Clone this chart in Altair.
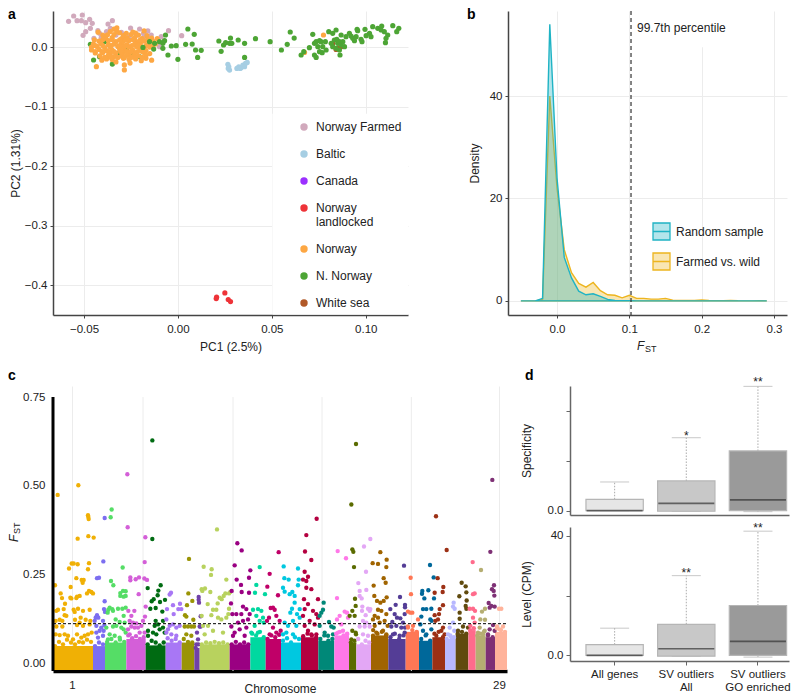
import altair as alt
import pandas as pd

FONT = "Liberation Sans"
INK = "#222222"
GRID = "#ececec"

# ---------- panel a: PCA ----------
pop_names = ["Norway Farmed", "Baltic", "Canada", "Norway landlocked", "Norway", "N. Norway", "White sea"]
pop_colors = ["#D1A9BC", "#A6CEE3", "#9B30FF", "#EE3338", "#FDA743", "#4DA535", "#B15928"]

farmed = [(-.0582,.0431),(-.0555,.0521),(-.0537,.0443),(-.0509,.0538),(-.0514,.0443),(-.0491,.0409),(-.047,.0465),
          (-.0456,.0398),(-.0466,.0314),(-.0491,.0258),(-.0505,.0196),(-.0372,.0387),(-.0349,.0443),(-.036,.0314),
          (-.0426,.0275),(-.0417,.023),(-.0408,.0162),(-.0447,.0146),(-.0301,.0246),(-.0252,.0319),(-.0204,.0303),
          (-.0183,.023),(-.0183,.0162),(-.0142,.0202),(-.0089,.0174),(-.005,.0275),(.002,.019),(-.0098,.0006),
          (-.026,.017),(-.033,.02),(-.038,.026),(-.022,.02),(-.016,.027)]
baltic = [(.0266,-.0291),(.0271,-.0331),(.0275,-.0387),(.0268,-.0359),(.0314,-.0359),(.0324,-.0331),(.0337,-.0342),
          (.0346,-.0303),(.036,-.0275),(.0369,-.0258),(.0355,-.0331),(.0332,-.0359)]
landlocked = [(.0206,-.42),(.0204,-.4225),(.025,-.413),(.0268,-.424),(.028,-.4274)]
white_sea = [(.0842,-.004),(.0824,.006),(.0869,.0006),(.0851,-.002)]
n_norway_under = [(-.0466,.0045),(-.0449,-.0218),(-.0417,-.0162),(-.0367,-.0151),(-.0349,-.0286),(-.039,.009),
                  (-.0319,-.0106),(-.0275,-.005),(-.0239,-.0134),(-.0204,-.0162)]
norway = [(-.034,.03),(-.0325,.032),
          (-.0425,.025),(-.036,.026),(-.031,.024),(-.024,.025),(-.018,.027),
          (-.04,.02),(-.034,.021),(-.029,.019),(-.025,.021),(-.021,.02),(-.0165,.019),
          (-.0385,.015),(-.035,.016),(-.03,.014),(-.027,.015),(-.023,.016),(-.019,.014),(-.014,.015),(-.011,.014),
          (-.042,.01),(-.037,.011),(-.033,.009),(-.029,.01),(-.026,.011),(-.022,.009),(-.018,.01),(-.0135,.011),
          (-.045,.005),(-.041,.006),(-.037,.004),(-.034,.005),(-.03,.006),(-.027,.004),(-.023,.005),(-.02,.006),(-.016,.004),(-.012,.005),
          (-.046,.0),(-.043,.001),(-.039,-.001),(-.036,.0),(-.032,.001),(-.029,-.001),(-.026,.0),(-.022,.001),(-.019,-.001),(-.015,.0),
          (-.046,-.005),(-.042,-.004),(-.038,-.006),(-.035,-.005),(-.031,-.004),(-.028,-.006),(-.024,-.005),(-.02,-.004),(-.017,-.006),
          (-.044,-.01),(-.04,-.009),(-.036,-.011),(-.033,-.01),(-.029,-.009),(-.026,-.011),(-.023,-.01),(-.018,-.009),(-.015,-.011),
          (-.0415,-.015),(-.037,-.014),(-.034,-.016),(-.03,-.015),(-.027,-.014),(-.024,-.016),(-.021,-.015),(-.017,-.014),
          (-.038,-.02),(-.035,-.021),(-.029,-.019),(-.026,-.021),(-.0225,-.02),(-.017,-.019),(-.014,-.022),
          (-.0434,-.033),(-.0285,-.03),(-.0285,-.0385),(-.0255,-.027),(-.0405,-.022),(-.033,-.025),
          (-.0195,-.023),(.0775,.0202),(.0674,-.009),
          (-.0445,.012),(-.04,.0125),(-.035,.0125),(-.031,.012),(-.0275,.0125),(-.024,.0125),(-.02,.012),(-.016,.0125),
          (-.044,.0025),(-.04,.0025),(-.0355,.0025),(-.031,.0025),(-.028,.0025),(-.0245,.0025),(-.021,.0025),(-.017,.0025),(-.0135,.002),
          (-.044,-.0075),(-.0405,-.0075),(-.037,-.0075),(-.034,-.0075),(-.0305,-.0075),(-.027,-.0075),(-.025,-.0075),(-.0215,-.0075),(-.019,-.0075),
          (-.039,-.0175),(-.0355,-.0175),(-.032,-.0175),(-.0285,-.0175),(-.025,-.0175),(-.0225,-.0175),(-.019,-.0175),
          (-.0375,.0205),(-.0325,.0255),(-.0275,.023),(-.0225,.0235),(-.0155,.0095)]
n_norway = [(-.0186,-.0006),(-.0129,-.0034),(-.0151,.009),(-.0124,.0062),(-.008,-.0022),(-.0066,.0202),(-.0098,.009),
            (-.008,.0062),(-.0071,.0106),(-.0053,-.0134),(-.0035,.0017),(-.0009,.0022),(0,-.0207),(.0041,.0045),
            (.0053,.0303),(.0076,.005),(.0087,.0213),(.0094,-.005),(.0124,-.0056),(.0105,-.0174),(.0218,.0101),
            (.023,-.0073),(.0243,.0034),(.0254,.0073),(.0275,.0062),(.028,.0151),(.0287,.0062),(.0321,.0118),
            (.0355,.0062),(.0355,-.0174),(.0413,.014),(.0491,.009),(.0551,-.005),(.0582,.0045),(.0598,.0252),
            (.0619,.0151),(.0656,-.0134),(.067,-.0078),(.07,-.0011),(.0718,.0213),(.0727,.0062),(.0736,.009),
            (.0754,.0106),(.0762,.009),(.0771,.0006),(.0745,.0006),(.0754,-.0078),(.0768,-.0095),(.0789,-.005),
            (.0727,-.0134),(.0736,-.0174),(.0785,.009),(.0803,.0258),(.0824,.023),(.0842,.0286),(.0833,.0118),
            (.0846,.0129),(.0816,.0062),(.0824,.0006),(.0851,.0062),(.086,.009),(.0869,.0034),(.0878,.009),
            (.086,-.005),(.0842,-.0022),(.0863,-.0134),(.0887,.0006),(.0869,.0202),(.0895,.0174),(.0913,.023),
            (.0922,.0185),(.0931,.0146),(.094,.0106),(.0954,.0297),(.0957,.0275),(.0949,.0174),(.0975,.0129),
            (.098,.009),(.0996,.0297),(.1002,.019),(.102,.023),(.1028,.0174),(.1037,.0342),(.1064,.0314),
            (.1085,.0353),(.1082,.0286),(.1099,.0258),(.1117,.0202),(.1108,.0146),(.1105,.0073),(.1144,.0359),
            (.1165,.0258),(.1176,.0314)]

# ---------- panel b: density ----------
fst_bins = [-.05,-.04,-.03,-.02,-.01,0,.01,.02,.03,.04,.05,.06,.07,.08,.09,.10,.11,.12,.13,.14,.15,.16,.17,.18,.19,
            .20,.21,.22,.23,.24,.25,.26,.27,.28,.29]
random_density = [0,0,0,.5,54,24,8.5,4.5,1.9,1.2,1.4,.9,.3,.1,.05,.02,.01,0,0,0,0,0,0,0,0,0,0,0,0,0,0,0,0,0,0]
farmed_density = [0,0,0,.3,40,22,10,5.5,3.4,2.7,3.6,2,1.2,1.1,.6,1.1,.5,.5,.35,.35,.5,.15,.1,.1,.1,.2,.1,.05,.05,.1,.02,.01,.01,.05,0]
density_names = ["Random sample", "Farmed vs. wild"]
density_lines = ["#1FB3C4", "#EDB51F"]
density_fills = ["rgba(31,179,196,0.34)", "rgba(237,181,31,0.34)"]
percentile_cut = 0.1023

# ---------- panel c: Manhattan ----------
chrom_start = [160,280,316,380,438,498,546,584,600,690,752,798,844,904,956,1004,1048,1070,1114,1166,1218,1258,1298,1336,1368,1406,1428,1458,1486]
chrom_end = chrom_start[1:] + [1522]
chrom_crown = [
 [.05,.062,.055,.068,.06,.055,.062,.06,.068,.062],[.05,.06,.055],[.062,.07,.06,.068,.062],[.08,.072,.078,.07,.075],
 [.055,.065,.06,.052,.06],[.072,.065,.07,.06],[.07,.062,.06],[.045,.055],[.055,.06,.058,.062,.058,.06,.055],
 [.055,.062,.055,.06,.055],[.085,.08,.09,.075],[.07,.08,.075,.082],[.065,.072,.06,.075,.07],[.078,.085,.08,.075],
 [.07,.08,.065,.07],[.085,.09,.08,.085],[.06,.065],[.07,.055,.065,.06],[.095,.085,.09,.08],[.075,.085,.07,.08],
 [.105,.095,.09],[.07,.08,.065],[.085,.09,.075],[.07,.08,.075],[.085,.09,.085],[.095,.1],[.08,.085,.09],[.08,.075],[.1,.095,.09]]
chrom_colors = ["#F0B005","#7C6EF0","#55DD66","#D45FD8","#006B12","#A877F5","#9A9405","#7040A8","#B8D25E","#9A0082",
                "#00D8A0","#C00068","#00C8E0","#B40040","#008878","#FF78E8","#5A6B00","#E3A7F5","#A06400","#543D96",
                "#FF7755","#00689A","#9C3015","#B8B8FF","#604A0E","#FF6B8C","#B5AE72","#7E3075","#FFB39B"]
chrom_points = [
 [(174,.475),(236,.502),(265,.418),(266,.413),(267,.407),(234,.352),(266,.359),(282,.355),(216,.282),(222,.282),(234,.28),(208,.268),(268,.283),(265,.266),(166,.221),(230,.241),(246,.236),(252,.236),(249,.228),(213,.216),(183,.198),(187,.185),(212,.186),(215,.184),(196,.169),(232,.189),(240,.191),(230,.185),(268,.205),(262,.198),(280,.198),(275,.202),(192,.154),(222,.152),(235,.155),(250,.149),(270,.152),(170,.149),(175,.152),(225,.146),(195,.137),(200,.135),(243,.13),(168,.121),(180,.124),(188,.121),(226,.124),(258,.124),(272,.121),(240,.116),(170,.105),(188,.105),(232,.109),(250,.107),(270,.111),(168,.083),(180,.081),(195,.083),(232,.083),(265,.083),(276,.088),(205,.079),(245,.074),(255,.079),(220,.069)],
 [(315,.41),(311,.288),(292,.241),(298,.242),(315,.176),(313,.154),(316,.146),(292,.137),(288,.13),(296,.13),(285,.121),(310,.121),(314,.109),(290,.107),(305,.102),(312,.093),(300,.093),(290,.088),(310,.079),(295,.074)],
 [(336,.434),(333,.412),(369,.271),(334,.233),(341,.221),(370,.205),(378,.204),(362,.199),(362,.191),(378,.191),(372,.189),(330,.158),(326,.152),(338,.154),(355,.155),(368,.155),(378,.158),(324,.144),(340,.149),(372,.135),(348,.125),(360,.118),(375,.116),(340,.105),(350,.107),(320,.102),(365,.102),(372,.097),(378,.088),(330,.083),(345,.079),(360,.074),(325,.069)],
 [(383,.533),(384,.384),(437,.356),(435,.286),(392,.243),(392,.235),(408,.238),(418,.243),(434,.24),(442,.236),(417,.196),(386,.149),(404,.149),(438,.161),(395,.135),(390,.121),(400,.116),(410,.114),(430,.121),(436,.133),(395,.105),(405,.102),(415,.102),(385,.097),(425,.107),(435,.088),(390,.083),(420,.088)],
 [(458,.628),(458,.351),(444,.213),(483,.221),(476,.206),(474,.193),(462,.182),(456,.176),(481,.174),(496,.18),(452,.155),(468,.157),(488,.147),(468,.121),(465,.107),(475,.111),(490,.121),(490,.102),(445,.093),(460,.088),(480,.097),(470,.083),(445,.079),(495,.088)],
 [(514,.2),(510,.195),(520,.165),(541,.169),(536,.154),(545,.154),(502,.154),(500,.125),(522,.14),(510,.107),(520,.111),(530,.102),(540,.107),(500,.088),(515,.083),(530,.079),(505,.097)],
 [(568,.295),(566,.198),(578,.177),(562,.165),(556,.137),(560,.133),(581,.124),(555,.105),(565,.105),(575,.105),(583,.105),(560,.083),(575,.079)],
 [(597,.188),(597,.18),(598,.172),(603,.134),(600,.105),(592,.088),(595,.069),(603,.105),(590,.055)],
 [(612,.273),(636,.266),(634,.25),(652,.378),(680,.237),(606,.21),(616,.212),(608,.205),(632,.202),(677,.198),(688,.198),(672,.191),(666,.182),(660,.186),(692,.202),(624,.168),(654,.17),(640,.152),(650,.152),(606,.135),(635,.137),(655,.13),(665,.125),(688,.155),(686,.14),(680,.13),(625,.107),(610,.107),(640,.093),(670,.088),(615,.083)],
 [(713,.339),(726,.319),(705,.277),(752,.263),(711,.237),(748,.242),(724,.222),(726,.202),(696,.205),(748,.2),(694,.17),(730,.161),(698,.14),(710,.14),(725,.14),(740,.154),(750,.14),(695,.105),(715,.116),(730,.121),(745,.125),(705,.088),(720,.097),(740,.102),(700,.079),(735,.079)],
 [(780,.272),(770,.222),(766,.2),(796,.196),(760,.152),(775,.154),(785,.149),(770,.135),(790,.13),(780,.121),(765,.107),(792,.116),(755,.088),(775,.088)],
 [(837,.314),(810,.253),(803,.217),(835,.193),(820,.158),(813,.157),(825,.152),(808,.13),(830,.135),(840,.121),(802,.121),(820,.102),(843,.093),(810,.083),(830,.088)],
 [(852,.274),(895,.268),(854,.241),(867,.237),(897,.237),(895,.221),(850,.214),(855,.203),(878,.202),(870,.196),(885,.191),(885,.172),(877,.155),(872,.144),(892,.14),(900,.154),(900,.13),(855,.116),(865,.107),(880,.121),(890,.107),(860,.088),(880,.083),(850,.083)],
 [(951,.408),(920,.362),(916,.316),(935,.292),(915,.259),(925,.245),(910,.237),(920,.233),(920,.214),(935,.21),(913,.182),(955,.182),(925,.168),(915,.154),(940,.149),(950,.14),(955,.13),(910,.135),(930,.121),(915,.107),(945,.111),(925,.093),(950,.083),(935,.083)],
 [(972,.172),(970,.152),(965,.144),(960,.135),(988,.118),(960,.107),(975,.088),(995,.105),(1002,.102),(985,.079),(1000,.083)],
 [(1014,.317),(1039,.297),(1012,.185),(1035,.147),(1042,.144),(1020,.135),(1012,.125),(1025,.111),(1045,.13),(1015,.088),(1030,.093),(1042,.083)],
 [(1069,.618),(1055,.448),(1058,.322),(1061,.315),(1063,.272),(1066,.183),(1068,.163),(1058,.149),(1050,.135),(1065,.135),(1058,.093),(1068,.088),(1055,.069),(1069,.083)],
 [(1112,.351),(1093,.33),(1099,.259),(1076,.227),(1080,.205),(1100,.208),(1080,.191),(1086,.184),(1088,.161),(1105,.155),(1112,.154),(1087,.149),(1098,.137),(1110,.149),(1090,.121),(1100,.116),(1080,.105),(1095,.105),(1110,.105),(1090,.083),(1105,.079)],
 [(1142,.314),(1119,.283),(1135,.281),(1161,.293),(1160,.272),(1152,.241),(1158,.228),(1122,.22),(1124,.191),(1161,.187),(1132,.177),(1142,.172),(1152,.177),(1125,.135),(1135,.152),(1145,.149),(1160,.14),(1120,.125),(1135,.13),(1155,.121),(1125,.107),(1140,.116),(1164,.107),(1130,.088),(1150,.093),(1120,.079),(1160,.083)],
 [(1213,.276),(1201,.188),(1188,.166),(1172,.154),(1216,.166),(1216,.159),(1185,.14),(1215,.14),(1178,.118),(1192,.13),(1202,.128),(1210,.116),(1175,.105),(1190,.107),(1205,.102),(1216,.102),(1180,.083),(1200,.079),(1215,.088)],
 [(1233,.242),(1234,.196),(1225,.147),(1232,.144),(1238,.144),(1255,.125),(1250,.088),(1225,.102),(1240,.107)],
 [(1291,.278),(1302,.243),(1268,.205),(1286,.207),(1267,.197),(1274,.184),(1303,.184),(1270,.154),(1280,.154),(1295,.155),(1262,.111),(1265,.133),(1292,.125),(1296,.121),(1295,.097),(1270,.093),(1280,.083)],
 [(1309,.415),(1341,.32),(1314,.241),(1331,.216),(1329,.202),(1305,.2),(1330,.165),(1320,.154),(1318,.14),(1305,.137),(1315,.125),(1330,.102),(1307,.121),(1325,.093),(1310,.079),(1335,.083)],
 [(1362,.172),(1360,.161),(1365,.155),(1360,.116),(1350,.102),(1364,.093),(1345,.083),(1355,.074)],
 [(1386,.228),(1398,.218),(1400,.201),(1379,.19),(1401,.178),(1398,.163),(1400,.155),(1380,.144),(1380,.127),(1390,.105),(1405,.102),(1375,.093)],
 [(1419,.286),(1425,.198),(1420,.196),(1410,.155),(1420,.155),(1426,.149),(1420,.13),(1412,.107),(1425,.116),(1415,.083)],
 [(1444,.264),(1456,.155),(1447,.147),(1442,.125),(1456,.124),(1440,.102),(1450,.083),(1435,.088),(1455,.093)],
 [(1478,.517),(1472,.315),(1483,.221),(1477,.21),(1482,.205),(1484,.192),(1467,.171),(1475,.163),(1485,.161),(1470,.158),(1480,.109),(1470,.097),(1485,.093),(1465,.083)],
 [(1505,.155),(1498,.155),(1492,.105),(1510,.105),(1500,.097),(1515,.088),(1495,.083),(1508,.079)],
]
threshold = 0.113
c_grid_pos = [430, 700, 967, 1235]
c_label_pos = [217, 1498]

# ---------- panel d: box plots ----------
box_cats = ["All genes", "SV outliers|All", "SV outliers|GO enriched"]
box_fill = ["#E6E6E6", "#C8C8C8", "#9A9A9A"]
spec_hi = [.23, .585, .997]
spec_q3 = [.091, .238, .479]
spec_med = [0, .059, .086]
spec_q1 = [0, -.005, 0]
spec_lo = [0, -.005, -.008]
spec_stars = ["", "*", "**"]
spec_star_y = [None, .6, 1.03]
lvl_hi = [9.1, 26.7, 41.6]
lvl_q3 = [3.6, 10.4, 16.7]
lvl_med = [0, 2.2, 4.7]
lvl_q1 = [0, -.3, 0]
lvl_lo = [0, -.3, -.6]
lvl_stars = ["", "**", "**"]
lvl_star_y = [None, 27.5, 42.5]


def axis_style(**kw):
    base = dict(labelFont=FONT, labelFontSize=11.5, labelColor=INK, titleFont=FONT, titleFontSize=12, titleColor=INK,
                titleFontWeight="normal", domainColor="#444444", domainWidth=1.5, tickColor="#444444", tickSize=3,
                gridColor=GRID, gridWidth=1, labelPadding=3, labelOverlap=False)
    base.update(kw)
    return alt.Axis(**base)


def letter(t, x, y):
    return alt.Chart(pd.DataFrame({"t": [t]})).mark_text(
        align="left", baseline="alphabetic", font=FONT, fontWeight="bold", fontSize=14, color="#000000"
    ).encode(x=alt.value(x), y=alt.value(y), text="t:N")


def note(t, x, y, size=12, style="normal", angle=0):
    return alt.Chart(pd.DataFrame({"t": [t]})).mark_text(
        align="left", baseline="alphabetic", font=FONT, fontSize=size, fontStyle=style, color=INK, angle=angle
    ).encode(x=alt.value(x), y=alt.value(y), text="t:N")


# ---- build a
rows = []
for name, pts in [("Norway Farmed", farmed), ("Baltic", baltic), ("Norway landlocked", landlocked), ("White sea", white_sea),
                  ("N. Norway", n_norway_under), ("Norway", norway), ("N. Norway", n_norway)]:
    for x, y in pts:
        rows.append({"pc1": x, "pc2": y, "pop": name})
pca = pd.DataFrame(rows)
a_xs = alt.Scale(domain=[-.0665, .1225], nice=False, zero=False)
a_ys = alt.Scale(domain=[-.45, .0605], nice=False, zero=False)
ax = alt.X("pc1:Q", scale=a_xs,
           axis=axis_style(values=[-.05, 0, .05, .1], format=".2f", title="PC1 (2.5%)", titlePadding=7, labelPadding=5))
ay = alt.Y("pc2:Q", scale=a_ys,
           axis=axis_style(values=[0, -.1, -.2, -.3, -.4], format=".1f", title="PC2 (1.31%)", titlePadding=2))
a_mask = alt.Chart(pd.DataFrame({"x": [.0503], "x2": [.1225], "y": [-.112], "y2": [-.449]})).mark_rect(color="white").encode(
    x=alt.X("x:Q", scale=a_xs), x2="x2:Q", y=alt.Y("y:Q", scale=a_ys), y2="y2:Q")
a_pts = alt.Chart(pca).mark_circle(size=27, opacity=1).encode(
    x=ax, y=ay,
    color=alt.Color("pop:N", scale=alt.Scale(domain=pop_names, range=pop_colors),
                    legend=alt.Legend(orient="none", legendX=245, legendY=110, title=None, symbolSize=55, symbolType="circle",
                                      labelFont=FONT, labelFontSize=12, labelColor=INK, labelOffset=6, rowPadding=15,
                                      symbolStrokeWidth=0, labelLimit=120,
                                      labelExpr="datum.label=='Norway landlocked' ? ['Norway','landlocked'] : datum.label")))
panel_a = alt.layer(a_mask, a_pts, letter("a", -45, 8)).properties(width=355, height=304)

# ---- build b
dens = pd.DataFrame({"fst": fst_bins * 2, "d": random_density + farmed_density,
                     "set": ["Random sample"] * len(fst_bins) + ["Farmed vs. wild"] * len(fst_bins)})
bx_s = alt.Scale(domain=[-.0678, .318], nice=False, zero=False)
by_s = alt.Scale(domain=[-2.75, 56.6], nice=False, zero=False)
fill_s = alt.Scale(domain=density_names, range=density_fills)
line_s = alt.Scale(domain=density_names, range=density_lines)
b_leg = alt.Legend(orient="none", legendX=144, legendY=211, title=None, symbolType="M-1,-1H1V1H-1ZM-1,0H1", symbolSize=289,
                   labelFont=FONT, labelFontSize=12, labelColor=INK, labelOffset=5, rowPadding=7, symbolStrokeWidth=1.3,
                   labelLimit=130)


def dens_layer(name):
    return alt.Chart(dens[dens.set == name]).mark_area(strokeWidth=1.4).encode(
        x=alt.X("fst:Q", scale=bx_s, axis=axis_style(values=[0, .1, .2, .3], format=".1f", title=None, labelPadding=5)),
        y=alt.Y("d:Q", scale=by_s, axis=axis_style(values=[0, 20, 40], format="d", title="Density", titlePadding=8)),
        fill=alt.Fill("set:N", scale=fill_s, legend=b_leg),
        stroke=alt.Stroke("set:N", scale=line_s, legend=b_leg))


b_box = alt.Chart(pd.DataFrame({"x": [.107], "x2": [.234], "y": [49.5], "y2": [56.6]})).mark_rect(color="white").encode(
    x=alt.X("x:Q", scale=bx_s), x2="x2:Q", y=alt.Y("y:Q", scale=by_s), y2="y2:Q")
b_cut = alt.Chart(pd.DataFrame({"x": [percentile_cut]})).mark_rule(color="#333333", strokeDash=[4, 3], strokeWidth=1.2).encode(
    x=alt.X("x:Q", scale=bx_s))
b_txt = alt.Chart(pd.DataFrame({"x": [.1106], "y": [53.3], "t": ["99.7th percentile"]})).mark_text(
    align="left", baseline="middle", font=FONT, fontSize=12, color=INK).encode(
    x=alt.X("x:Q", scale=bx_s), y=alt.Y("y:Q", scale=by_s), text="t:N")
panel_b = alt.layer(b_box, dens_layer("Farmed vs. wild"), dens_layer("Random sample"), b_cut, b_txt,
                    note("F", 129, 339, 12, "italic"), note("ST", 137, 341, 9), letter("b", -41, 8)
                    ).properties(width=279, height=304)

# ---- build c
chrom_ids = [f"{i + 1}" for i in range(29)]
pts_rows, mass_rows = [], []
for cid, pts, s, e, crown in zip(chrom_ids, chrom_points, chrom_start, chrom_end, chrom_crown):
    mass_rows.append({"chrom": cid, "s": s, "e": e, "top": min(crown), "low": -.017})
    step = (e - s) / len(crown)
    for i, f in enumerate(crown):
        pts_rows.append({"chrom": cid, "pos": s + (i + .5) * step, "fst": f})
    for p, f in pts:
        pts_rows.append({"chrom": cid, "pos": p, "fst": f})
cx_s = alt.Scale(domain=[160, 1522], nice=False, zero=False)
cy_s = alt.Scale(domain=[-.02, .781], nice=False, zero=False)
cc_s = alt.Scale(domain=chrom_ids, range=chrom_colors)
c_grid = alt.Chart(pd.DataFrame({"pos": c_grid_pos})).mark_rule(color=GRID, strokeWidth=1).encode(
    x=alt.X("pos:Q", scale=cx_s, axis=axis_style(values=c_label_pos, labelExpr="datum.value < 500 ? '1' : '29'",
                                                   title="Chromosome", tickSize=0, domainColor="#000000", domainWidth=3.5,
                                                   labelPadding=8, titlePadding=-7)),
    y=alt.datum(-.02), y2=alt.datum(.75))
c_mass = alt.Chart(pd.DataFrame(mass_rows)).mark_rect().encode(
    x=alt.X("s:Q", scale=cx_s), x2="e:Q",
    y=alt.Y("top:Q", scale=cy_s,
            axis=axis_style(values=[0, .125, .25, .375, .5, .625, .75], format=".2f", domain=False, tickSize=0, labelPadding=8,
                            labelExpr="datum.value*4 % 1 == 0 ? format(datum.value,'.2f') : ''", title=None)),
    y2="low:Q",
    color=alt.Color("chrom:N", scale=cc_s, legend=None))
c_pts = alt.Chart(pd.DataFrame(pts_rows)).mark_circle(size=19, opacity=1).encode(
    x=alt.X("pos:Q", scale=cx_s), y=alt.Y("fst:Q", scale=cy_s), color=alt.Color("chrom:N", scale=cc_s, legend=None))
c_axis = alt.Chart(pd.DataFrame({"pos": [160], "lo": [-.02], "hi": [.75]})).mark_rule(color="#000000", strokeWidth=3).encode(
    x=alt.X("pos:Q", scale=cx_s), y=alt.Y("lo:Q", scale=cy_s), y2="hi:Q")
c_thr = alt.Chart(pd.DataFrame({"v": [threshold], "a": [160], "b": [1522]})).mark_rule(
    color="#000000", strokeDash=[3, 2], strokeWidth=1).encode(
    x=alt.X("a:Q", scale=cx_s), x2="b:Q", y=alt.Y("v:Q", scale=cy_s))
panel_c = alt.layer(c_grid, c_mass, c_pts, c_thr, c_axis,
                    note("F", -35, 156, 12, "italic", 270), note("ST", -33, 148, 9, "normal", 270), letter("c", -45, -6)
                    ).properties(width=454, height=285)


# ---- build d
def box_panel(hi, q3, med, q1, lo, stars, star_y, dom, ticks, lab_expr, ytitle, height, show_x, let):
    df = pd.DataFrame({"cat": box_cats, "hi": hi, "q3": q3, "med": med, "q1": q1, "lo": lo, "fill": box_fill,
                       "star": stars, "sy": star_y})
    xs = alt.Scale(domain=box_cats, paddingInner=.2, paddingOuter=.128, align=.87)
    ys = alt.Scale(domain=dom, nice=False, zero=False)
    if show_x:
        xaxis = axis_style(title=None, labelAngle=0, labelPadding=3, labelLineHeight=13, tickSize=4,
                           labelExpr="split(datum.label,'|')", domainColor="#666666", tickColor="#666666")
    else:
        xaxis = alt.Axis(title=None, labels=False, ticks=False, domainColor="#666666", domainWidth=1.5)
    x = alt.X("cat:N", scale=xs, sort=box_cats, axis=xaxis)
    whisk = alt.Chart(df).mark_rule(color="#AAAAAA", strokeDash=[1.5, 1.5], strokeWidth=1).encode(
        x=x, y=alt.Y("q3:Q", scale=ys,
                     axis=axis_style(values=ticks, labelExpr=lab_expr, title=ytitle, titlePadding=14, tickSize=4,
                                     domainColor="#666666", tickColor="#666666", grid=False)),
        y2="hi:Q")
    whisk2 = alt.Chart(df).mark_rule(color="#AAAAAA", strokeDash=[1.5, 1.5], strokeWidth=1).encode(
        x=x, y=alt.Y("q1:Q", scale=ys), y2="lo:Q")
    caps_hi = alt.Chart(df).mark_tick(color="#B0B0B0", size=29, thickness=1).encode(x=x, y=alt.Y("hi:Q", scale=ys))
    caps_lo = alt.Chart(df).mark_tick(color="#B0B0B0", size=29, thickness=1).encode(x=x, y=alt.Y("lo:Q", scale=ys))
    box = alt.Chart(df).mark_bar(stroke="#B5B5B5", strokeWidth=1.2).encode(
        x=x, y=alt.Y("q3:Q", scale=ys), y2="q1:Q",
        fill=alt.Fill("fill:N", scale=None))
    med_t = alt.Chart(df).mark_tick(color="#333333", size=56, thickness=1.7).encode(x=x, y=alt.Y("med:Q", scale=ys))
    star = alt.Chart(df[df.star != ""]).mark_text(font=FONT, fontSize=12, color=INK, baseline="middle").encode(
        x=x, y=alt.Y("sy:Q", scale=ys), text="star:N")
    layers = [whisk, whisk2, caps_hi, caps_lo, box, med_t, star]
    if let:
        layers.append(letter(let, -45, -6))
    return alt.layer(*layers).properties(width=219, height=height)


panel_d1 = box_panel(spec_hi, spec_q3, spec_med, spec_q1, spec_lo, spec_stars, spec_star_y, [-.035, 1.0], [0, .2, .4, .6, .8, 1],
                     "datum.value<0.01 ? '0.0' : datum.value>0.99 ? '1.0' : ''", "Specificity", 129, False, "d")
panel_d2 = box_panel(lvl_hi, lvl_q3, lvl_med, lvl_q1, lvl_lo, lvl_stars, lvl_star_y, [-1.9, 43], [0, 10, 20, 30, 40],
                     "datum.value==0 ? '0.0' : datum.value==40 ? '40' : ''", "Level (CPM)", 134, True, None)

ind = dict(color="independent", fill="independent", stroke="independent")
top_row = alt.hconcat(panel_a, panel_b, spacing=59).resolve_scale(**ind)
right_col = alt.vconcat(panel_d1, panel_d2, spacing=12, bounds="flush").resolve_scale(**ind)
bottom_row = alt.hconcat(panel_c, right_col, spacing=12).resolve_scale(**ind)
chart = alt.vconcat(top_row, bottom_row, spacing=15).resolve_scale(**ind).properties(padding=0, background="white").configure_view(stroke=None)

chart.save("out.html", embed_options={"renderer": "svg", "actions": False})
